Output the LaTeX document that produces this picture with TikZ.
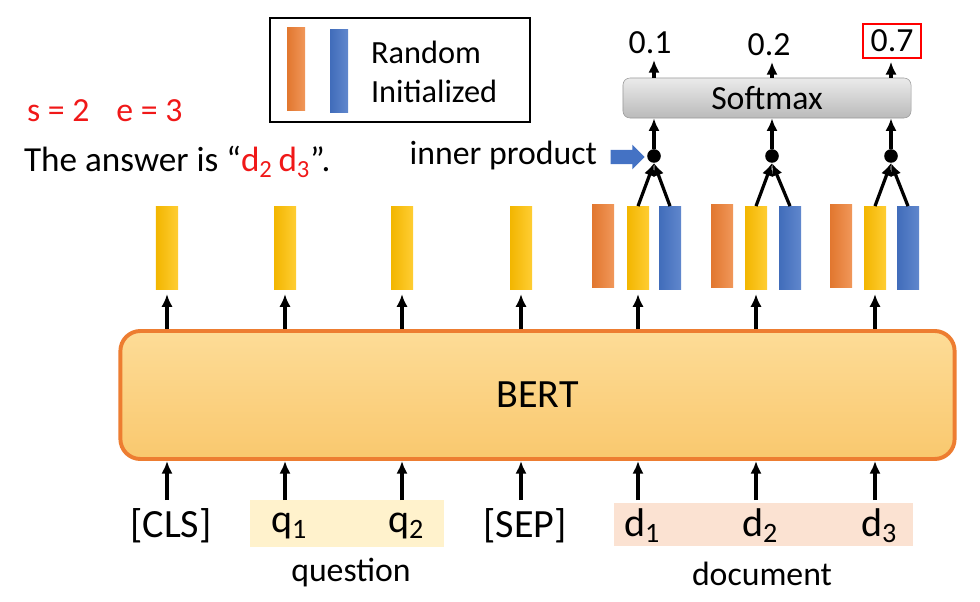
\documentclass[tikz,border=0pt]{standalone}
\usepackage{fontspec}
\setmainfont{Carlito}
\usetikzlibrary{arrows.meta,shapes.arrows,positioning}
\definecolor{bertorange}{HTML}{ED7D31}
\definecolor{bertlight}{HTML}{FDDC97}
\definecolor{bertdark}{HTML}{F9C86E}
\definecolor{vecyellow}{HTML}{FFC000}
\definecolor{vecorange}{HTML}{ED7D31}
\definecolor{vecblue}{HTML}{4472C4}
\definecolor{qfill}{HTML}{FFF2CC}
\definecolor{dfill}{HTML}{FBE2D2}
\definecolor{redtxt}{HTML}{F01818}
\begin{document}
\begin{tikzpicture}[
        x=0.025cm,y=-0.025cm,
        every node/.style={
            inner sep=2pt,
            font=\fontsize{24}{28}\selectfont
        },
        big/.style={font=\fontsize{28.5}{32}\selectfont},
        vec/.style={rectangle,inner sep=0pt,minimum width=0.55cm,minimum height=2.08cm},
        yvec/.style={vec,left color=vecyellow!95!black,right color=vecyellow!80!white},
        ovec/.style={vec,left color=vecorange!95!black,right color=vecorange!80!white},
        bvec/.style={vec,left color=vecblue!95!black,right color=vecblue!85!white},
        up/.style={-{Latex[length=9pt,width=8pt]},line width=2.3pt},
        dot/.style={circle,fill=black,inner sep=0pt,minimum size=0.34cm}
    ]
    \useasboundingbox (0,0) rectangle (980,602);
% Sets
    \node[big,draw=bertorange,line width=2.8pt,rounded corners=0.5cm,
          top color=bertlight,bottom color=bertdark,
          minimum width=20.85cm,minimum height=3.2cm] (bert) at (537.5,395) {BERT};
    \node[fill=qfill,minimum width=4.85cm,minimum height=1.18cm] (qbox) at (347,523.5) {};
    \node[fill=dfill,minimum width=7.48cm,minimum height=1.08cm] (dbox) at (763.5,524.5) {};
    \node[draw=black!40,rounded corners=5pt,top color=black!8,bottom color=black!27,
          minimum width=7.2cm,minimum height=1cm] (soft) at (767,98) {Softmax};
% Legend
    \node[draw,line width=2pt,minimum width=6.5cm,minimum height=2.6cm] (legend) at (400,70) {};
    \node[ovec,minimum width=0.45cm] (lorange) at (296,69) {};
    \node[bvec,minimum width=0.45cm] (lblue) at (339,71) {};
    \node[anchor=west,align=left,font=\fontsize{23}{28}\selectfont] (ltext) at (368,72) {Random\\Initialized};
% Vectors
\foreach\n/\x/\t in {cls/167/{[CLS]},q1/285/{q\textsubscript{1}},q2/402/{q\textsubscript{2}},sep/521/{[SEP]},
                    d1/638/{d\textsubscript{1}},d2/756/{d\textsubscript{2}},d3/875/{d\textsubscript{3}}}{
    \node[yvec] (v\n) at (\x,248) {};
    \node[big] (t\n) at (\x+4,526) {\t};
    \coordinate (in\n) at (\x,500);
    \draw[up] (in\n) -- (in\n |- bert.south);
    \draw[up,shorten >=3pt] (bert.north -| v\n) -- (v\n.south);
}
\foreach\k/\x/\o/\b/\p in {1/654/603/670/0.1,2/772/722/790/0.2,3/891/841/908/0.7}{
    \node[ovec] (o\k) at (\o,246) {};
    \node[bvec] (b\k) at (\b,248) {};
    \node[dot] (ip\k) at (\x,156) {};
    \draw[up] (vd\k.north) -- (ip\k.south);
    \draw[up] (b\k.north) -- (ip\k.south);
    \draw[up] (ip\k) -- (ip\k |- soft.south);
}
% Labels
    \node (p1) at (650,43) {0.1};
    \node (p2) at (769,45) {0.2};
    \node[draw=red,line width=1.5pt,minimum width=1.45cm,minimum height=0.85cm] (p3) at (892,41) {0.7};
\foreach\k in {1,2,3}{
    \draw[up,shorten >=2pt] (soft.north -| ip\k) -- (p\k.south -| ip\k);
}
    \node[anchor=east] (iptext) at (600,156) {inner product};
    \node[single arrow,fill=vecblue,inner xsep=0pt,inner ysep=0.17cm,minimum height=0.85cm,
          single arrow head extend=0.13cm] (iparrow) at (624,157) {};
    \node[anchor=west,text=redtxt] (se) at (24,111) {s = 2\hspace{0.8em}e = 3};
    \node[anchor=west,font=\fontsize{25}{30}\selectfont] (ans) at (21,162) {The answer is “\textcolor{redtxt}{d\textsubscript{2}\,d\textsubscript{3}}”.};
    \node (qlab) at (351,573) {question};
    \node (dlab) at (762,574) {document};
\end{tikzpicture}
\end{document}
